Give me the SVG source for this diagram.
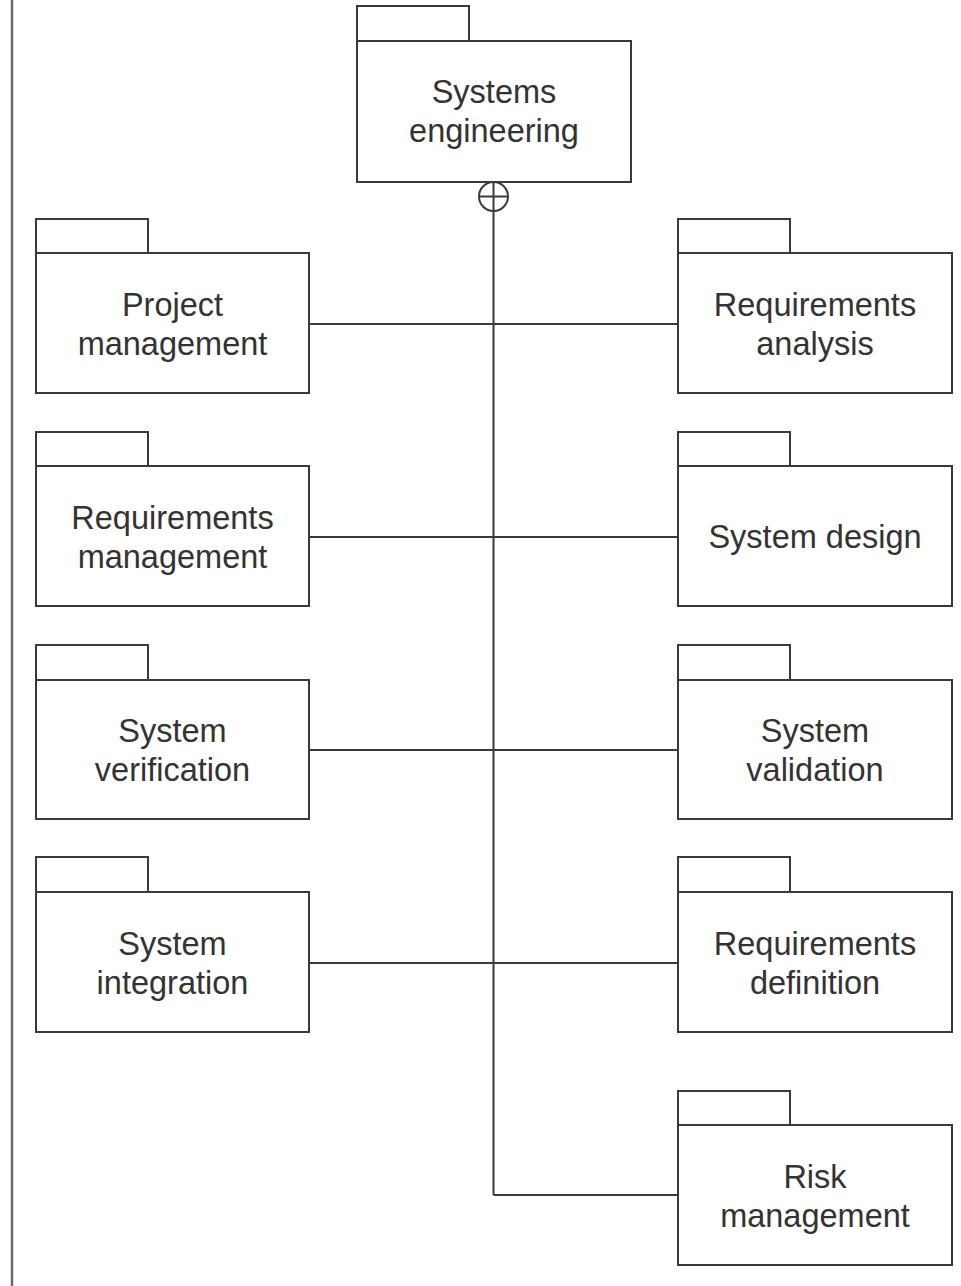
<svg xmlns="http://www.w3.org/2000/svg" width="961" height="1286" viewBox="0 0 961 1286">
  <defs>
    <style>
      .edge { fill: none; stroke: #3a3a3a; stroke-width: 2; }
      .pkg rect { fill: #ffffff; stroke: #3a3a3a; stroke-width: 2; }
      .pkg text { font-family: "Liberation Sans", Arial, Helvetica, sans-serif; font-size: 32.5px; fill: #333333; text-anchor: middle; }
      .frame { stroke: #6a6a6a; stroke-width: 2.5; }
    </style>
  </defs>

  <rect x="0" y="0" width="961" height="1286" fill="#ffffff"/>

  <!-- frame edge on the left -->
  <line class="frame" x1="12" y1="0" x2="12" y2="1286"/>

  <!-- connectors: containment trunk and branches -->
  <g id="connectors">
    <line class="edge" x1="493.5" y1="211" x2="493.5" y2="1195"/>
    <line class="edge" x1="309" y1="324" x2="678" y2="324"/>
    <line class="edge" x1="309" y1="537" x2="678" y2="537"/>
    <line class="edge" x1="309" y1="750" x2="678" y2="750"/>
    <line class="edge" x1="309" y1="963" x2="678" y2="963"/>
    <line class="edge" x1="493.5" y1="1195" x2="678" y2="1195"/>
    <!-- containment symbol (circle with cross) -->
    <circle class="edge" cx="493.5" cy="196.5" r="14.5" fill="#ffffff"/>
    <line class="edge" x1="479" y1="196.5" x2="508" y2="196.5"/>
    <line class="edge" x1="493.5" y1="182" x2="493.5" y2="211"/>
  </g>

  <!-- top package -->
  <g id="systems-engineering" class="pkg">
    <rect x="357" y="6" width="112" height="35"/>
    <rect x="357" y="41" width="274" height="141"/>
    <text x="494" y="103">Systems</text>
    <text x="494" y="142">engineering</text>
  </g>

  <!-- left column -->
  <g id="project-management" class="pkg">
    <rect x="36" y="219" width="112" height="34"/>
    <rect x="36" y="253" width="273" height="140"/>
    <text x="172.5" y="316">Project</text>
    <text x="172.5" y="355">management</text>
  </g>
  <g id="requirements-management" class="pkg">
    <rect x="36" y="432" width="112" height="34"/>
    <rect x="36" y="466" width="273" height="140"/>
    <text x="172.5" y="529">Requirements</text>
    <text x="172.5" y="568">management</text>
  </g>
  <g id="system-verification" class="pkg">
    <rect x="36" y="645" width="112" height="35"/>
    <rect x="36" y="680" width="273" height="139"/>
    <text x="172.5" y="742">System</text>
    <text x="172.5" y="781">verification</text>
  </g>
  <g id="system-integration" class="pkg">
    <rect x="36" y="857" width="112" height="35"/>
    <rect x="36" y="892" width="273" height="140"/>
    <text x="172.5" y="955">System</text>
    <text x="172.5" y="994">integration</text>
  </g>

  <!-- right column -->
  <g id="requirements-analysis" class="pkg">
    <rect x="678" y="219" width="112" height="34"/>
    <rect x="678" y="253" width="274" height="140"/>
    <text x="815" y="316">Requirements</text>
    <text x="815" y="355">analysis</text>
  </g>
  <g id="system-design" class="pkg">
    <rect x="678" y="432" width="112" height="34"/>
    <rect x="678" y="466" width="274" height="140"/>
    <text x="815" y="548">System design</text>
  </g>
  <g id="system-validation" class="pkg">
    <rect x="678" y="645" width="112" height="35"/>
    <rect x="678" y="680" width="274" height="139"/>
    <text x="815" y="742">System</text>
    <text x="815" y="781">validation</text>
  </g>
  <g id="requirements-definition" class="pkg">
    <rect x="678" y="857" width="112" height="35"/>
    <rect x="678" y="892" width="274" height="140"/>
    <text x="815" y="955">Requirements</text>
    <text x="815" y="994">definition</text>
  </g>
  <g id="risk-management" class="pkg">
    <rect x="678" y="1091" width="112" height="34"/>
    <rect x="678" y="1125" width="274" height="140"/>
    <text x="815" y="1188">Risk</text>
    <text x="815" y="1227">management</text>
  </g>
</svg>
